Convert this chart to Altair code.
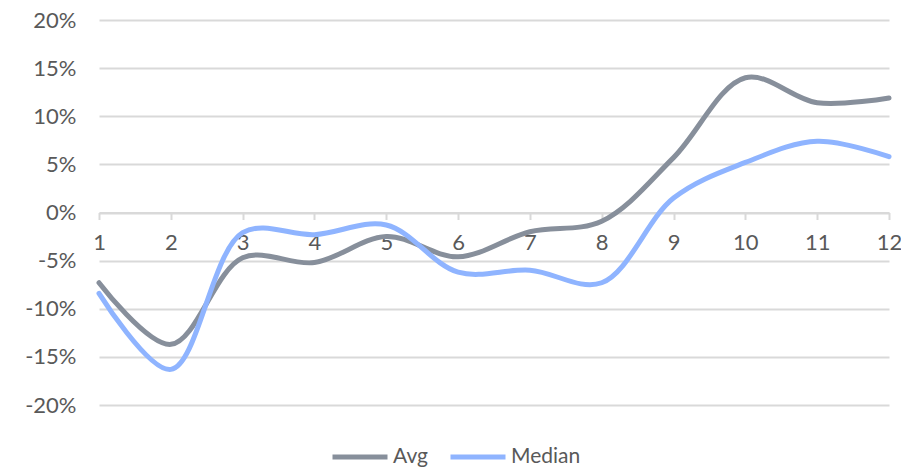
import altair as alt
import pandas as pd

# Monthly change, in percent
months = [1, 2, 3, 4, 5, 6, 7, 8, 9, 10, 11, 12]
avg = [-7.3, -13.7, -4.7, -5.2, -2.5, -4.6, -2.0, -0.9, 5.7, 14.0, 11.4, 11.9]
median = [-8.4, -16.3, -2.1, -2.3, -1.3, -6.2, -6.0, -7.3, 1.5, 5.2, 7.4, 5.8]

series_names = ["Avg", "Median"]
series_colors = ["#878f9b", "#8fb4ff"]

df = pd.concat([
    pd.DataFrame({"month": months, "value": avg, "series": "Avg"}),
    pd.DataFrame({"month": months, "value": median, "series": "Median"}),
])

W, H = 790, 385
FONT = "Lato"
TEXT = "#595959"
GRID = "#d9d9d9"

chart = (
    alt.Chart(df)
    .mark_line(interpolate="catmull-rom", strokeWidth=5, strokeCap="round")
    .encode(
        x=alt.X(
            "month:Q",
            scale=alt.Scale(domain=[1, 12], nice=False, zero=False),
            axis=alt.Axis(
                title=None,
                values=months,
                grid=False,
                offset=-H / 2,
                domainColor=GRID,
                domainWidth=2,
                tickColor=GRID,
                tickWidth=2,
                tickSize=7,
                labelPadding=13,
                labelFont=FONT,
                labelFontSize=22,
                labelColor=TEXT,
                labelFlush=False,
                labelExpr="datum.value",
            ),
        ),
        y=alt.Y(
            "value:Q",
            scale=alt.Scale(domain=[-20, 20], nice=False),
            axis=alt.Axis(
                title=None,
                values=[-20, -15, -10, -5, 0, 5, 10, 15, 20],
                domain=False,
                ticks=False,
                gridColor=GRID,
                gridWidth=2,
                labelPadding=23,
                labelFont=FONT,
                labelFontSize=22,
                labelColor=TEXT,
                labelExpr="datum.value + '%'",
            ),
        ),
        color=alt.Color(
            "series:N",
            scale=alt.Scale(domain=series_names, range=series_colors),
            legend=alt.Legend(
                title=None,
                orient="none",
                direction="horizontal",
                legendX=231,
                legendY=407,
                symbolType="stroke",
                symbolSize=3025,
                symbolStrokeWidth=5,
                labelFont=FONT,
                labelFontSize=21,
                labelColor=TEXT,
                labelOffset=3,
                columnPadding=12,
            ),
        ),
    )
    .properties(
        width=W,
        height=H,
        autosize=alt.AutoSizeParams(type="none"),
        padding={"left": 99, "top": 20, "right": 12, "bottom": 65},
    )
    .configure_view(stroke=None)
)

chart.save("out.html", embed_options={"renderer": "svg", "actions": False})
